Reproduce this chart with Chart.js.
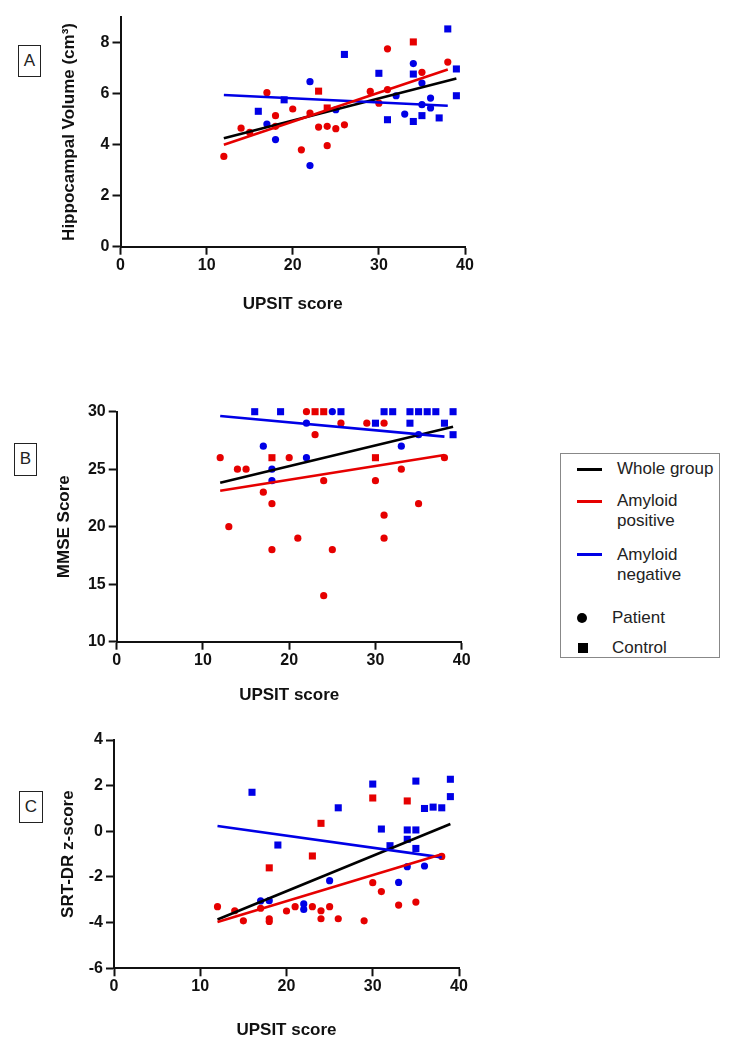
<!DOCTYPE html>
<html><head><meta charset="utf-8">
<script src="https://cdn.jsdelivr.net/npm/chart.js@4.4.1/dist/chart.umd.min.js"></script>
<style>
html,body{margin:0;padding:0;background:#fff;width:731px;height:1050px;overflow:hidden;font-family:'Liberation Sans',Arial,sans-serif;}
canvas{position:absolute;left:0;}
.pl{position:absolute;border:1.5px solid #222;box-sizing:border-box;font-size:17px;color:#222;text-align:center;}
#legend{position:absolute;left:560px;top:453px;width:160px;height:205px;border:1.5px solid #888;box-sizing:border-box;}
.lg{position:absolute;font-size:17px;line-height:20px;color:#222;white-space:nowrap;}
.ln{position:absolute;left:577px;width:25px;height:3px;}
</style></head>
<body>
<div class="pl" style="left:18px;top:45px;width:23px;height:32px;line-height:29px">A</div>
<div class="pl" style="left:14px;top:443px;width:23px;height:33px;line-height:30px">B</div>
<div class="pl" style="left:19px;top:791px;width:24px;height:32px;line-height:29px">C</div>

<canvas id="cA"></canvas>
<canvas id="cB"></canvas>
<canvas id="cC"></canvas>

<div id="legend"></div>
<div class="ln" style="top:468px;background:#000"></div>
<div class="lg" style="left:617px;top:459px">Whole group</div>
<div class="ln" style="top:500px;background:#e60000"></div>
<div class="lg" style="left:617px;top:491px">Amyloid<br>positive</div>
<div class="ln" style="top:553px;background:#0000e6"></div>
<div class="lg" style="left:617px;top:545px">Amyloid<br>negative</div>
<div style="position:absolute;left:577px;top:613px;width:10px;height:10px;border-radius:50%;background:#000"></div>
<div class="lg" style="left:612px;top:608px">Patient</div>
<div style="position:absolute;left:578px;top:643px;width:10px;height:10px;background:#000"></div>
<div class="lg" style="left:612px;top:638px">Control</div>

<script>
// ---------- tick labels ----------
const upsitTicks = [0, 10, 20, 30, 40];
const hippoTicks = [0, 2, 4, 6, 8];
const mmseTicks = [10, 15, 20, 25, 30];
const srtTicks = [-6, -4, -2, 0, 2, 4];

// ---------- Panel A: Hippocampal volume ----------
const hippoPosPatient = [[31,7.76],[38,7.24],[35,6.84],[17,6.04],[29,6.09],[31,6.16],[30,5.63],[20,5.4],[22,5.24],[18,5.14],[14,4.65],[15,4.48],[23,4.69],[24,4.72],[25,4.63],[26,4.78],[18,4.72],[21,3.8],[24,3.96],[12,3.54]];
const hippoPosControl = [[34,8.03],[23,6.1],[24,5.44]];
const hippoNegPatient = [[34,7.18],[35,6.42],[22,6.47],[32,5.92],[36,5.83],[35,5.57],[36,5.44],[25,5.37],[33,5.2],[17,4.81],[18,4.2],[22,3.18]];
const hippoNegControl = [[38,8.54],[26,7.54],[39,6.97],[30,6.8],[34,6.77],[39,5.92],[19,5.76],[16,5.31],[31,4.98],[34,4.91],[35,5.14],[37,5.05]];
const hippoFitWhole = [[12,4.25],[39,6.6]];
const hippoFitPos = [[12,4.0],[38,6.95]];
const hippoFitNeg = [[12,5.95],[38,5.53]];

// ---------- Panel B: MMSE ----------
const mmsePosPatient = [[22,30],[26,29],[29,29],[31,29],[23,28],[12,26],[20,26],[38,26],[14,25],[15,25],[33,25],[24,24],[30,24],[17,23],[18,22],[35,22],[31,21],[13,20],[21,19],[31,19],[18,18],[25,18],[24,14]];
const mmsePosControl = [[23,30],[24,30],[18,26],[30,26]];
const mmseNegPatient = [[25,30],[22,29],[35,28],[17,27],[33,27],[22,26],[18,25],[18,24]];
const mmseNegControl = [[16,30],[19,30],[26,30],[31,30],[32,30],[34,30],[35,30],[36,30],[37,30],[39,30],[30,29],[34,29],[38,29],[39,28]];
const mmseFitWhole = [[12,23.83],[39,28.7]];
const mmseFitPos = [[12,23.13],[38,26.23]];
const mmseFitNeg = [[12,29.63],[38,27.83]];

// ---------- Panel C: SRT-DR ----------
const srtPosPatient = [[30,-2.25],[31,-2.64],[33,-3.23],[35,-3.1],[17,-3.37],[12,-3.3],[14,-3.48],[15,-3.92],[18,-3.83],[18,-3.95],[20,-3.49],[21,-3.3],[23,-3.3],[24,-3.48],[24,-3.83],[25,-3.3],[26,-3.83],[29,-3.92],[38,-1.1]];
const srtPosControl = [[30,1.46],[34,1.33],[24,0.35],[23,-1.08],[18,-1.6]];
const srtNegPatient = [[34,-1.55],[36,-1.52],[25,-2.16],[33,-2.24],[17,-3.05],[18,-3.04],[22,-3.18],[22,-3.42]];
const srtNegControl = [[16,1.71],[30,2.07],[35,2.2],[39,2.28],[39,1.52],[36,1.0],[37,1.06],[38,1.03],[26,1.03],[31,0.1],[34,0.06],[35,0.06],[34,-0.35],[32,-0.63],[35,-0.75],[19,-0.6]];
const srtFitWhole = [[12,-3.86],[39,0.32]];
const srtFitPos = [[12,-3.97],[38,-1.0]];
const srtFitNeg = [[12,0.23],[38,-1.14]];

const RED = '#e60000', BLUE = '#0000e6', BLACK = '#000000';
const FONT = "'Liberation Sans', Arial, sans-serif";
Chart.defaults.font.family = FONT;

function pts(a) { return a.map(p => ({x: p[0], y: p[1]})); }

function lineDs(d, color) {
  return {type: 'scatter', data: pts(d), showLine: true, borderColor: color, borderWidth: 2.6,
    pointRadius: 0, pointHoverRadius: 0, clip: false, fill: false};
}
function ptDs(d, color, style) {
  return {type: 'scatter', data: pts(d), backgroundColor: color, borderWidth: 0,
    pointStyle: style, pointRadius: style === 'rect' ? 5 : 3.6, clip: false};
}

const CW = 480, CH = 350;
function makePanel(id, g, sets, yTitle, yMin, yMax, yTicks) {
  const cv = document.getElementById(id);
  cv.width = CW; cv.height = CH;
  cv.style.width = CW + 'px'; cv.style.height = CH + 'px';
  cv.style.top = g.canvasTop + 'px';
  const half = 17 * 1.2 / 2;
  const padLeft = g.yTitleX - half;
  const yW = g.plotLeft - padLeft;
  const padTop = g.plotTop - g.canvasTop;
  const padRight = CW - g.plotRight;
  const xH = g.xTitleY + half - g.plotBottom;
  const padBottom = CH - (g.plotBottom - g.canvasTop) - xH;
  const axisCommon = {
    grid: {drawOnChartArea: false, drawTicks: true, tickLength: 8, tickColor: '#111', tickWidth: 2},
    border: {display: true, color: '#111', width: 2},
  };
  new Chart(cv, {
    type: 'scatter',
    data: {datasets: [
      lineDs(sets.pos, RED), lineDs(sets.neg, BLUE), lineDs(sets.whole, BLACK),
      ptDs(sets.pp, RED, 'circle'), ptDs(sets.pc, RED, 'rect'),
      ptDs(sets.np, BLUE, 'circle'), ptDs(sets.nc, BLUE, 'rect')
    ]},
    options: {
      responsive: false, animation: false, devicePixelRatio: 1,
      layout: {padding: {left: padLeft, top: padTop, right: padRight, bottom: padBottom}},
      plugins: {legend: {display: false}, tooltip: {enabled: false}},
      scales: {
        x: Object.assign({}, axisCommon, {
          type: 'linear', min: 0, max: 40,
          afterBuildTicks: s => { s.ticks = upsitTicks.map(v => ({value: v})); },
          afterFit: s => { s.height = xH; },
          ticks: {font: {size: 16, weight: 'bold'}, color: '#111', padding: 1, autoSkip: false, maxRotation: 0},
          title: {display: true, text: 'UPSIT score', font: {size: 17, weight: 'bold'}, color: '#111', padding: 0}
        }),
        y: Object.assign({}, axisCommon, {
          type: 'linear', min: yMin, max: yMax,
          afterBuildTicks: s => { s.ticks = yTicks.map(v => ({value: v})); },
          afterFit: s => { s.width = yW; },
          ticks: {font: {size: 16, weight: 'bold'}, color: '#111', padding: 3, autoSkip: false},
          title: {display: true, text: yTitle, font: {size: 17, weight: 'bold'}, color: '#111', padding: 0}
        })
      }
    }
  });
}

makePanel('cA', {canvasTop: 0, plotLeft: 120.5, plotRight: 465, plotTop: 17.2, plotBottom: 246.7, yTitleX: 69, xTitleY: 304},
  {pos: hippoFitPos, neg: hippoFitNeg, whole: hippoFitWhole, pp: hippoPosPatient, pc: hippoPosControl, np: hippoNegPatient, nc: hippoNegControl},
  'Hippocampal Volume (cm³)', 0, 9, hippoTicks);
makePanel('cB', {canvasTop: 370, plotLeft: 116.7, plotRight: 461.7, plotTop: 411.7, plotBottom: 641.7, yTitleX: 64.5, xTitleY: 695},
  {pos: mmseFitPos, neg: mmseFitNeg, whole: mmseFitWhole, pp: mmsePosPatient, pc: mmsePosControl, np: mmseNegPatient, nc: mmseNegControl},
  'MMSE Score', 10, 30, mmseTicks);
makePanel('cC', {canvasTop: 700, plotLeft: 114, plotRight: 459, plotTop: 740, plotBottom: 968.3, yTitleX: 68.5, xTitleY: 1030},
  {pos: srtFitPos, neg: srtFitNeg, whole: srtFitWhole, pp: srtPosPatient, pc: srtPosControl, np: srtNegPatient, nc: srtNegControl},
  'SRT-DR z-score', -6, 4, srtTicks);
</script>
</body></html>
